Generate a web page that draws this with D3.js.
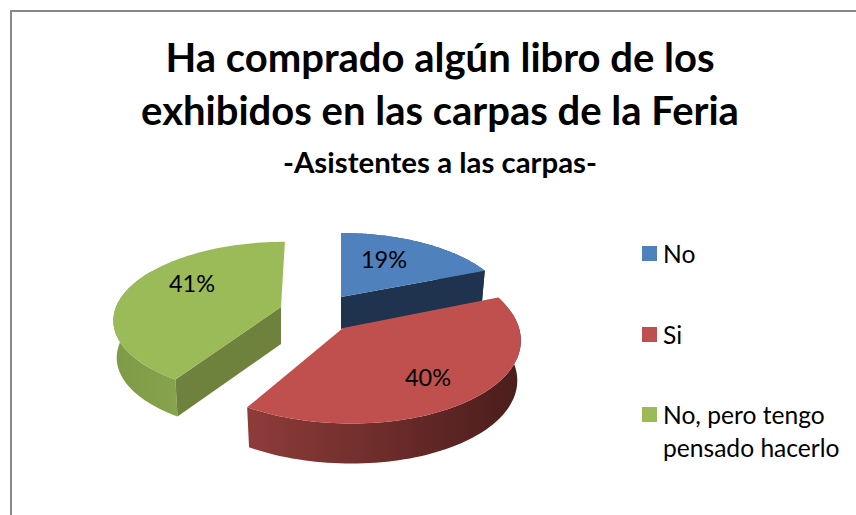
<!DOCTYPE html>
<html><head><meta charset="utf-8"><style>html,body{margin:0;padding:0;background:#fff}svg{display:block}</style>
<script src="https://cdnjs.cloudflare.com/ajax/libs/d3/7.8.5/d3.min.js"></script></head><body>
<svg id="c" width="856" height="515"></svg>
<script>
const categories = ["No", "Si", "No, pero tengo pensado hacerlo"];
const values = [19, 40, 41];
const valueLabels = ["19%", "40%", "41%"];
const titleLines = ["Ha comprado algún libro de los", "exhibidos en las carpas de la Feria"];
const subtitle = "-Asistentes a las carpas-";
const colors = ["#4f81bd", "#c0504d", "#9bbb59"];
const cutColors = ["#1f334e", "#4f1f1d", "#6f823d"];
const wallStops = [
  ["#3a5f8c", "#1f334e"],
  ["#8e3c3a", "#4a1d1b"],
  ["#7f9a47", "#94b255"]
];
// projection of each exploded slice
const geom = [
  {cx: 341, cy: 297, rx: 166, ry: 76.8, p: 0.2, shear: 0, depth: 32, lx: 384, ly: 260, cuts: ["end"], wallFrac: 1},
  {cx: 343, cy: 328, rx: 176, ry: 86, p: 0.1, shear: 0.09, depth: 40, lx: 428, ly: 378, cuts: [], wallFrac: 1},
  {cx: 281, cy: 307, rx: 165, ry: 75, p: 0.15, shear: -0.06, depth: 37, lx: 192, ly: 284, cuts: ["start"], wallFrac: 0.6}
];
const svg = d3.select("#c");
const defs = svg.append("defs");
const font = "Lato, Carlito, sans-serif";

svg.append("path").attr("d", "M856,11H11V515").attr("fill","none").attr("stroke","#888888").attr("stroke-width",2);

const t = svg.append("g").attr("font-family", font).attr("font-weight", 700).attr("text-anchor","middle").attr("fill","#000");
titleLines.forEach((s,i)=> t.append("text").attr("x",440).attr("y",72+i*53).attr("font-size",40).text(s));
t.append("text").attr("x",440).attr("y",173).attr("font-size",29.4).text(subtitle);

const arcs = d3.pie().sort(null)(values);
const project = (g, a) => {
  const u = Math.sin(a), v = -Math.cos(a), w = 1 - g.p*v;
  const yy = v/w;
  return [g.cx + g.rx*u/w + g.shear*g.ry*yy, g.cy + g.ry*yy];
};
const line = d3.line();
const rim = (g, a0, a1) => d3.range(0, 81).map(i => project(g, a0 + (a1-a0)*i/80));
// the underside is a little further from the viewer, so it is slightly narrower
const drop = (g, pts) => pts.map(p => [g.cx + (p[0]-g.cx)*0.98, p[1]+g.depth]);

const order = [0, 2, 1];
order.forEach(i => {
  const g = geom[i], d = arcs[i], layer = svg.append("g");
  const pts = rim(g, d.startAngle, d.endAngle);
  const wallPts = rim(g, d.startAngle, d.startAngle + (d.endAngle-d.startAngle)*g.wallFrac);
  const apex = [g.cx, g.cy];
  const xs = pts.map(p=>p[0]);
  const gid = "wall"+i;
  const lg = defs.append("linearGradient").attr("id",gid).attr("gradientUnits","userSpaceOnUse")
    .attr("x1", d3.min(xs)).attr("x2", d3.max(xs)).attr("y1",0).attr("y2",0);
  lg.append("stop").attr("offset",0).attr("stop-color", wallStops[i][0]);
  lg.append("stop").attr("offset",1).attr("stop-color", wallStops[i][1]);
  // outer wall
  layer.append("path").attr("d", line(wallPts.concat(drop(g,wallPts).reverse()))+"Z").attr("fill","url(#"+gid+")");
  // cut faces
  g.cuts.forEach(c => {
    const p = c === "start" ? pts[0] : pts[pts.length-1];
    layer.append("path").attr("d", line([apex, p].concat(drop(g,[p, apex])))+"Z").attr("fill", cutColors[i]);
  });
  // top face
  layer.append("path").attr("d", line([apex].concat(pts))+"Z").attr("fill", colors[i]);
});

// value labels
const vl = svg.append("g").attr("font-family", font).attr("font-size",23.5).attr("fill","#000").attr("text-anchor","middle");
valueLabels.forEach((s,i)=> vl.append("text").attr("x",geom[i].lx).attr("y",geom[i].ly+8).text(s));

// legend
const leg = svg.append("g").attr("font-family", font).attr("font-size",24.6).attr("fill","#000");
const legendY = [254, 335, 415];
const wrapped = [["No"],["Si"],["No, pero tengo","pensado hacerlo"]];
categories.forEach((c,i)=>{
  leg.append("rect").attr("x",642).attr("y",legendY[i]-8).attr("width",15).attr("height",15).attr("fill",colors[i]);
  wrapped[i].forEach((s,j)=> leg.append("text").attr("x",663).attr("y",legendY[i]+9+j*33).text(s));
});
</script></body></html>
